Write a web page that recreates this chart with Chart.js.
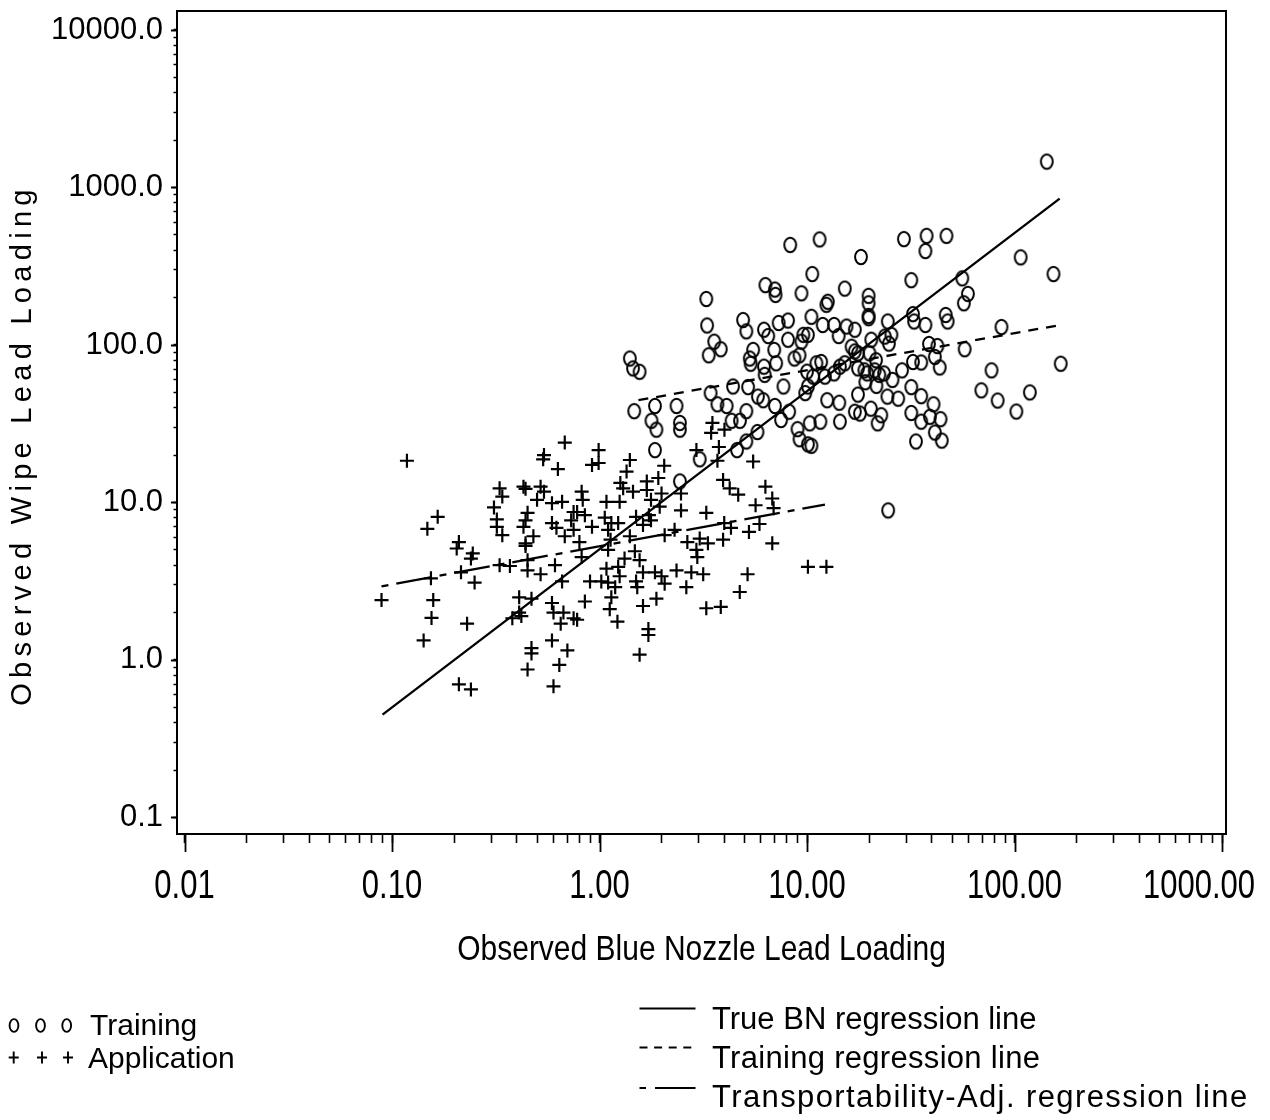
<!DOCTYPE html>
<html>
<head>
<meta charset="utf-8">
<script src="https://cdn.jsdelivr.net/npm/chart.js@4.4.1/dist/chart.umd.min.js"></script>
<style>
html,body{margin:0;padding:0;background:#fff;}
#wrap{position:relative;width:1270px;height:1120px;overflow:hidden;}
#c{position:absolute;left:0;top:0;}
.lg{position:absolute;font-family:'Liberation Sans',Arial,sans-serif;color:#000;white-space:nowrap;line-height:1;}
.l30{font-size:30px;}
.l31{font-size:31px;}
svg{position:absolute;overflow:visible;}
</style>
</head>
<body>
<div id="wrap">
<canvas id="c" width="1270" height="1120"></canvas>

<svg style="left:0;top:1010px" width="90" height="60">
  <g fill="none" stroke="#000" stroke-width="1.9">
    <ellipse cx="14" cy="15.5" rx="4.4" ry="6.4"/>
    <ellipse cx="40.5" cy="15.5" rx="4.4" ry="6.4"/>
    <ellipse cx="66.7" cy="15.5" rx="4.4" ry="6.4"/>
    <path d="M8.7 47.5H18.7M13.7 41.5V53.5M37 47.5H47M42 41.5V53.5M63 47.5H73M68 41.5V53.5"/>
  </g>
</svg>
<div class="lg l30" style="left:90px;top:1010px">Training</div>
<div class="lg l30" style="left:88px;top:1043px">Application</div>

<svg style="left:630px;top:995px" width="80" height="110">
  <g fill="none" stroke="#000" stroke-width="2">
    <path d="M9.5 13.5H65.5"/>
    <path d="M9.5 52.5H65.5" stroke-dasharray="8 6.6"/>
    <path d="M9.5 93H16M25 93H65.5"/>
  </g>
</svg>
<div class="lg l31" style="left:712px;top:1003px">True BN regression line</div>
<div class="lg l31" style="left:712px;top:1042px;letter-spacing:0.3px">Training regression line</div>
<div class="lg l31" style="left:712px;top:1081px;letter-spacing:1.4px">Transportability-Adj. regression line</div>
</div>

<script>
// ---------------- data ----------------
const xTitle = 'Observed Blue Nozzle Lead Loading';
const yTitle = 'Observed Wipe Lead Loading';

const xMajorTicks = [0.01, 0.1, 1, 10, 100, 1000];
const xTickLabels = ['0.01', '0.10', '1.00', '10.00', '100.00', '1000.00'];
const yMajorTicks = [0.1, 1, 10, 100, 1000, 10000];
const yTickLabels = ['0.1', '1.0', '10.0', '100.0', '1000.0', '10000.0'];

// Training (circles)
const trainX = [
  1.47, 1.85, 1.78, 1.88, 2.35, 2.44, 2.44, 1.85, 3.04, 2.44, 3.43, 3.7, 4.1, 4.33, 4.75, 5.1, 4.6, 5.1, 5.77,
  4.4, 5.2, 5.8, 6.15, 7.0, 7.7, 7.5, 8.2, 9.0, 9.2, 10.1, 10.5, 10.3, 11.6, 12.5, 14.3, 14.4, 10.1, 9.8,
  8.3, 11.5, 10.6, 6.3, 7.0, 7.05, 9.4, 15.2, 12.6, 12.4, 3.27, 3.3, 3.57, 3.84, 3.36, 4.92, 5.1, 6.2, 6.5,
  7.3, 8.1, 10.5, 11.9, 13.5, 15.5, 17.0, 9.6, 10.1, 8.1, 9.4, 14.2, 16.4, 17.0, 5.5, 5.3, 5.35, 6.95, 7.1,
  6.2, 6.25, 8.7, 9.2, 11.1, 11.7, 14.4, 15.2, 10.0, 10.7, 12.2, 13.5, 1.40, 1.45, 1.56,
  143, 29.3, 37.7, 37.2, 47, 18.2, 107, 154, 31.8, 56, 59.6, 57, 19.8, 19.8, 19.8, 19.8, 24.5, 32.4, 32.8,
  37.2, 46.6, 47.6, 86.5, 57.5, 167, 77.5, 69.2, 82.9, 118.5, 102, 20.4, 23.7, 24.8, 17.6, 20.0, 21.5, 17.6,
  18.9, 19.5, 21.2, 22.3, 23.5, 25.8, 28.7, 32.4, 35.5, 38.7, 42.5, 41.3, 43.6, 19.1, 21.6, 24.4, 27.5, 17.6,
  31.8, 35.5, 40.7, 31.8, 35.5, 39.1, 44, 20.3, 22.8, 21.9, 18.0, 17.0, 41.3, 44.6, 33.5, 24.6, 25.5
];
const trainY = [
  38, 41, 33, 29, 41, 32, 29, 21.5, 18.8, 13.6, 49.5, 42, 41, 33, 33, 38, 21.5, 24.4, 28,
  54.5, 54, 47, 44.6, 41, 54.5, 33.4, 37.7, 29.2, 25.2, 23.4, 22.9, 31.8, 32.6, 44.6, 43, 32.6, 54.5, 49.5,
  432, 468, 282, 240, 225, 208, 213, 228, 188, 180, 196, 133, 105, 94, 86, 144, 122, 125, 114,
  138, 143, 151, 134, 134, 131, 125, 116, 116, 108, 105, 114, 97.5, 91, 93, 82, 76, 93, 76.5,
  72.8, 64.6, 82, 86, 76.5, 78, 72.8, 76.5, 67.7, 63, 63, 66, 82, 71, 67.6,
  1460, 470, 493, 395, 493, 362, 360, 282, 258, 265, 211, 184, 205, 184, 153, 148, 141, 157, 141,
  134, 155, 141, 130, 94, 76, 69, 51.5, 44.4, 50, 37.8, 108, 113, 102, 88.5, 88.5, 80, 71,
  69, 66, 69, 64.6, 66, 60, 69, 78, 77.4, 101.5, 98.5, 84, 72, 58, 55, 47, 45.6, 48.4,
  54, 47.3, 42, 37, 32.6, 35, 33.8, 39.4, 35.8, 31.8, 36.7, 37.7, 27.8, 24.7, 24.4, 8.9, 116
];

// Application (pluses)
const appX = [
  0.118, 0.68, 0.54, 0.535, 0.99, 0.92, 0.99, 0.63, 0.33, 0.34, 0.43, 0.44, 0.52, 0.54, 0.50, 0.59, 0.66, 0.82,
  0.83, 0.75, 0.78, 0.85, 0.73, 0.92, 0.31, 0.32, 0.32, 0.34, 0.45, 0.44, 0.43, 0.48, 0.59, 0.62, 0.68, 0.75,
  0.80, 1.08, 1.25, 1.35, 1.26, 1.06, 1.14, 1.23, 1.10, 1.13, 0.166, 0.148, 0.21, 0.205, 0.245, 0.24, 0.44,
  0.44, 0.33, 0.37, 0.45, 0.45, 0.52, 0.61, 0.82, 1.10, 0.215, 0.25, 0.154, 0.089, 0.158, 0.155, 0.23, 0.142,
  0.41, 0.47, 0.41, 0.38, 0.42, 0.59, 0.60, 0.67, 0.65, 0.75, 0.78, 0.66, 0.85, 0.90, 1.02, 1.10, 1.19, 1.14,
  1.12, 1.22, 1.08, 1.23, 1.32, 1.25, 0.59, 0.70, 0.47, 0.47, 0.45, 0.64, 0.21, 0.24, 0.60, 1.40, 1.40,
  3.5, 3.45, 4.0, 3.76, 2.93, 3.7, 5.5, 1.30, 1.45, 1.69, 1.69, 1.92, 2.05, 1.99, 1.77, 1.95, 1.50, 1.73,
  1.77, 1.62, 2.47, 2.47, 3.27, 3.94, 4.24, 4.66, 6.3, 6.8, 6.9, 5.65, 5.9, 5.25, 6.8, 3.99, 4.3, 3.94, 2.3,
  2.06, 2.65, 3.04, 3.33, 2.93, 2.96, 1.48, 1.56, 1.62, 1.85, 1.99, 2.06, 1.50, 1.52, 2.35, 2.77, 3.16, 2.62,
  1.88, 1.62, 1.72, 1.72, 1.56, 3.27, 3.84, 5.17, 4.74, 10.1, 12.4
];
const appY = [
  18.4, 24, 20, 18.8, 21.5, 17.3, 17.8, 16.3, 12.3, 10.9, 12.6, 12.2, 12.6, 11.7, 10.4, 9.9, 10.1, 11.7,
  10.4, 8.7, 8.7, 8.3, 7.7, 7.0, 9.3, 7.8, 7.0, 6.2, 8.6, 7.7, 7.0, 6.1, 7.4, 6.9, 6.1, 6.7,
  5.6, 10.1, 10.1, 15.7, 13.3, 8.0, 7.4, 7.4, 6.7, 5.8, 8.1, 6.8, 5.6, 5.1, 4.75, 4.4, 5.3,
  5.5, 4.0, 3.95, 4.3, 3.7, 3.5, 4.0, 4.5, 5.0, 3.6, 3.1, 3.3, 2.4, 2.4, 1.85, 1.7, 1.33,
  2.5, 2.45, 2.0, 1.84, 1.9, 2.3, 2.0, 2.0, 1.7, 1.84, 1.8, 3.15, 2.35, 3.15, 3.15, 3.1, 2.9, 2.5,
  2.1, 1.75, 3.8, 3.9, 4.4, 3.4, 1.33, 1.15, 1.19, 1.1, 0.87, 0.93, 0.70, 0.65, 0.68, 6.1, 18.6,
  32, 27.7, 29, 22.5, 21.5, 18.4, 18.2, 12.3, 11.7, 13.6, 12, 14.3, 17.1, 11.4, 10.4, 9.4, 8.1, 8.3,
  7.7, 7.2, 11.4, 8.9, 8.6, 13.9, 12.3, 11.2, 12.6, 10.6, 9.2, 9.6, 7.3, 6.5, 5.5, 7.4, 6.9, 5.8, 6.7,
  6.2, 5.6, 5.9, 5.5, 5.0, 4.5, 4.9, 4.3, 3.6, 3.6, 3.4, 3.05, 3.15, 2.9, 3.7, 3.6, 3.5, 2.9,
  2.45, 2.2, 1.57, 1.44, 1.08, 2.13, 2.17, 3.5, 2.7, 3.9, 3.9
];

// Regression lines (end points)
const trueLineX = [0.09, 165];
const trueLineY = [0.45, 850];
const trainLineX = [1.54, 167];
const trainLineY = [44.6, 134];
const transLineX = [0.089, 12.2];
const transLineY = [2.93, 9.7];

// ---------------- chart ----------------
const SANS = "'Liberation Sans', Arial, sans-serif";

const pts = (xs, ys) => xs.map((x, i) => ({x: x, y: ys[i]}));
const withMinors = majors => {
  const out = [];
  majors.forEach((m, i) => {
    out.push(m);
    if (i < majors.length - 1) for (let k = 2; k <= 9; k++) out.push(m * k);
  });
  return out;
};
const labelOf = (majors, labels) => v => {
  const i = majors.findIndex(m => Math.abs(m - v) / m < 1e-6);
  return i >= 0 ? labels[i] : '';
};

const ring = (() => {
  const c = document.createElement('canvas');
  c.width = 18; c.height = 20;
  const g = c.getContext('2d');
  g.strokeStyle = '#000'; g.lineWidth = 2;
  g.beginPath(); g.ellipse(9, 10, 5.9, 7.3, 0, 0, Math.PI * 2); g.stroke();
  return c;
})();

const frameAndMajors = {
  id: 'frameAndMajors',
  afterDraw(chart) {
    const {ctx, chartArea: a, scales: {x, y}} = chart;
    ctx.save();
    ctx.strokeStyle = '#000';
    ctx.lineWidth = 2;
    ctx.beginPath();
    ctx.moveTo(a.left, a.top); ctx.lineTo(a.right, a.top); ctx.lineTo(a.right, a.bottom);
    ctx.stroke();
    ctx.lineWidth = 1.8;
    ctx.beginPath();
    xMajorTicks.forEach(v => { const p = Math.round(x.getPixelForValue(v)) + 0.5; ctx.moveTo(p, a.bottom); ctx.lineTo(p, a.bottom + 18); });
    yMajorTicks.forEach(v => { const p = Math.round(y.getPixelForValue(v)) + 0.5; ctx.moveTo(a.left, p); ctx.lineTo(a.left - 6, p); });
    ctx.stroke();
    ctx.restore();
  }
};

// Text styling of the axes: tall condensed look for the x labels/title,
// letter-spaced y title, last x label kept inside the page as in the original.
const axisTextStyle = {
  id: 'axisTextStyle',
  afterUpdate(chart) {
    const xs = chart.scales.x, ys = chart.scales.y;
    if (xs && !xs._styled) {
      const origLabels = xs.drawLabels;
      xs.drawLabels = function (area) {
        const items = this.getLabelItems(area);
        items.forEach(it => {
          if (it.label === xTickLabels[xTickLabels.length - 1] && it.options && it.options.translation && !it._moved) {
            it.options.translation[0] += 33;
            it.options.textAlign = 'right';
            it._moved = true;
          }
        });
        const ctx = this.ctx, y0 = this.top;
        ctx.save();
        ctx.translate(0, y0); ctx.scale(1, 1.32); ctx.translate(0, -y0);
        origLabels.call(this, area);
        ctx.restore();
      };
      const origTitle = xs.drawTitle;
      xs.drawTitle = function () {
        const ctx = this.ctx, y0 = this.bottom - 22;
        ctx.save();
        ctx.translate(0, y0); ctx.scale(1, 1.15); ctx.translate(0, -y0);
        origTitle.call(this);
        ctx.restore();
      };
      xs._styled = true;
    }
    if (ys && !ys._styled) {
      const origTitle = ys.drawTitle;
      ys.drawTitle = function () {
        const ctx = this.ctx;
        ctx.save();
        ctx.letterSpacing = '5.3px';
        ctx.translate(0, 22.5);
        origTitle.call(this);
        ctx.restore();
      };
      ys._styled = true;
    }
  }
};

new Chart(document.getElementById('c'), {
  type: 'scatter',
  data: {
    datasets: [
      {label: 'Training', data: pts(trainX, trainY), pointStyle: ring, pointRadius: 7, borderColor: '#000', backgroundColor: 'transparent', order: 3},
      {label: 'Application', data: pts(appX, appY), pointStyle: 'cross', pointRadius: 7, pointBorderWidth: 2.2, borderColor: '#000', backgroundColor: '#000', order: 3},
      {label: 'True BN regression line', type: 'line', data: pts(trueLineX, trueLineY), borderColor: '#000', borderWidth: 2.3, pointRadius: 0, fill: false, order: 1},
      {label: 'Training regression line', type: 'line', data: pts(trainLineX, trainLineY), borderColor: '#000', borderWidth: 2.3, borderDash: [10, 8], pointRadius: 0, fill: false, order: 1},
      {label: 'Transportability-Adj. regression line', type: 'line', data: pts(transLineX, transLineY), borderColor: '#000', borderWidth: 2.3, borderDash: [7, 8, 36, 8], pointRadius: 0, fill: false, order: 1}
    ]
  },
  options: {
    responsive: false,
    devicePixelRatio: 1,
    animation: false,
    events: [],
    layout: {padding: {left: 0, top: 11, right: 44, bottom: 136}},
    plugins: {legend: {display: false}, tooltip: {enabled: false}, title: {display: false}},
    scales: {
      x: {
        type: 'logarithmic', position: 'bottom', min: 0.0092, max: 1045,
        afterBuildTicks: s => { s.ticks = withMinors(xMajorTicks).map(v => ({value: v})); },
        afterFit: s => { s.height = 150; s.paddingLeft = 0; s.paddingRight = 0; },
        ticks: {autoSkip: false, maxRotation: 0, minRotation: 0, padding: 12.4, color: '#000',
                font: {family: SANS, size: 31}, callback: labelOf(xMajorTicks, xTickLabels)},
        grid: {drawOnChartArea: false, drawTicks: true, tickLength: 9, tickColor: '#000', tickWidth: 1.6},
        border: {display: true, color: '#000', width: 2},
        title: {display: true, text: xTitle, color: '#000', font: {family: SANS, size: 30}, padding: {top: 0, bottom: 14.4}}
      },
      y: {
        type: 'logarithmic', position: 'left', min: 0.0785, max: 13200,
        afterBuildTicks: s => { s.ticks = withMinors(yMajorTicks).map(v => ({value: v})); },
        afterFit: s => { s.width = 177; s.paddingTop = 0; s.paddingBottom = 0; },
        ticks: {autoSkip: false, padding: 10.5, color: '#000',
                font: {family: SANS, size: 31}, callback: labelOf(yMajorTicks, yTickLabels)},
        grid: {drawOnChartArea: false, drawTicks: true, tickLength: 3.5, tickColor: '#000', tickWidth: 1.5},
        border: {display: true, color: '#000', width: 2},
        title: {display: true, text: yTitle, color: '#000', font: {family: SANS, size: 29}, padding: {top: 6, bottom: 0}}
      }
    }
  },
  plugins: [frameAndMajors, axisTextStyle]
});
</script>
</body>
</html>
